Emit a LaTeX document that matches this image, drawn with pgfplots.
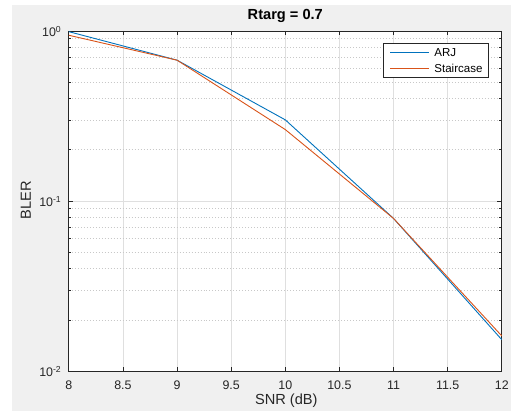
\documentclass[border=0pt]{standalone}
\usepackage{pgfplots}
\pgfplotsset{compat=1.18}
\usepackage{fontspec}
\setmainfont{Liberation Sans}
\definecolor{figbg}{HTML}{F0F0F0}
\definecolor{axc}{HTML}{262626}
\definecolor{c1}{HTML}{0072BD}
\definecolor{c2}{HTML}{D95319}
\definecolor{gmaj}{HTML}{DFDFDF}
\definecolor{gmin}{HTML}{C8C8C8}
\begin{document}
\begin{tikzpicture}[x=1bp,y=1bp]
\fill[white] (0,0) rectangle (512,412);
\fill[figbg] (12,0) rectangle (512,407);
\begin{axis}[
  at={(69bp,40bp)}, anchor=south west,
  scale only axis, width=434bp, height=341bp,
  ymode=log, xmin=8, xmax=12, ymin=1e-2, ymax=1,
  axis background/.style={fill=white},
  axis line style={axc, line width=0.7bp},
  xtick={8,8.5,9,9.5,10,10.5,11,11.5,12},
  xticklabels={8,8.5,9,9.5,10,10.5,11,11.5,12},
  ytick={0.01,0.1,1},
  yticklabels={10\textsuperscript{-2},10\textsuperscript{-1},10\textsuperscript{0}},
  minor ytick={0.02,0.03,0.04,0.05,0.06,0.07,0.08,0.09,0.2,0.3,0.4,0.5,0.6,0.7,0.8,0.9},
  xtick pos=both, ytick pos=both,
  xticklabel pos=lower, yticklabel pos=left,
  grid=both,
  major grid style={gmaj, line width=0.7bp},
  minor grid style={gmin, dash pattern=on 1bp off 2bp, line width=0.7bp},
  tick align=inside, major tick length=4.5bp, minor tick length=2.5bp,
  tick style={axc, line width=0.7bp},
  ticklabel style={font=\fontsize{12.5}{14}\selectfont, text=axc},
  xticklabel style={anchor=base, yshift=-18.5bp},
  yticklabel style={anchor=base east, xshift=-4bp, yshift=-5.5bp},
  legend style={at={(0.970,0.965)}, anchor=north east, draw=axc, fill=white, line width=0.7bp,
    font=\fontsize{11.6}{13}\selectfont, inner xsep=6bp, inner ysep=5.5bp, row sep=7bp, column sep=5bp,
    nodes={inner sep=0pt, text height=8.3bp, text depth=0bp}},
  legend cell align=left,
  legend image code/.code={\draw[#1] (0bp,0bp) -- (39bp,0bp);},
]
\addplot[c1, line width=0.9bp] coordinates {(8,0.99) (9,0.673) (10,0.30) (11,0.079) (12,0.0153)};
\addlegendentry{ARJ}
\addplot[c2, line width=0.9bp] coordinates {(8,0.943) (9,0.673) (10,0.263) (11,0.079) (12,0.0161)};
\addlegendentry{Staircase}
\end{axis}
\node[anchor=base, font=\fontsize{14.7}{16}\selectfont\bfseries, text=black] at (286,392) {Rtarg = 0.7};
\node[anchor=base, font=\fontsize{14.7}{16}\selectfont, text=axc] at (287,6.5) {SNR (dB)};
\node[rotate=90, anchor=center, font=\fontsize{14.7}{16}\selectfont, text=axc] at (26,211) {BLER};
\end{tikzpicture}
\end{document}
